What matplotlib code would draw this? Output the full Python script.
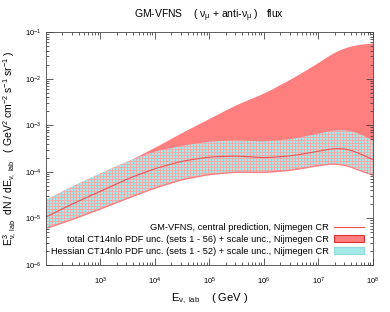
import numpy as np
import matplotlib
matplotlib.use("Agg")
import matplotlib.pyplot as plt
from matplotlib.patches import Patch
from matplotlib.lines import Line2D

plt.rcParams["font.family"] = ["Liberation Sans", "DejaVu Sans"]
plt.rcParams["mathtext.fontset"] = "custom"
plt.rcParams["mathtext.rm"] = "Liberation Sans"
plt.rcParams["mathtext.it"] = "Liberation Sans"
plt.rcParams["hatch.linewidth"] = 0.8

# values (log10 scale)
log_e = [2.0, 2.5, 3.0, 3.5, 4.0, 4.5, 5.0, 5.5, 6.0, 6.5, 7.0, 7.25, 7.5, 7.75, 8.0]
central = [-4.97, -4.68, -4.42, -4.15, -3.93, -3.77, -3.68, -3.66, -3.70, -3.66, -3.56, -3.50, -3.50, -3.60, -3.74]
hess_up = [-4.60, -4.30, -4.03, -3.77, -3.56, -3.44, -3.35, -3.32, -3.35, -3.30, -3.18, -3.11, -3.10, -3.17, -3.33]
hess_lo = [-5.20, -5.00, -4.78, -4.55, -4.33, -4.15, -4.04, -3.99, -4.00, -3.95, -3.85, -3.81, -3.84, -3.96, -4.06]
tot_up = [-4.60, -4.30, -4.03, -3.77, -3.47, -3.15, -2.85, -2.55, -2.31, -2.00, -1.65, -1.45, -1.32, -1.26, -1.23]
tot_lo = [-5.22, -5.02, -4.80, -4.57, -4.35, -4.17, -4.06, -4.01, -4.02, -3.97, -3.87, -3.83, -3.86, -3.98, -4.08]

# fine grid, gently smoothed so the curves are not piecewise straight
step = 0.01
fine = np.arange(2.0, 8.0 + step / 2, step)
pad = 30
ext = np.arange(2.0 - pad * step, 8.0 + (pad + 0.5) * step, step)
kern = np.exp(-0.5 * (np.arange(-pad, pad + 1) / 10.0) ** 2)
kern /= kern.sum()

def smooth(vals):
    y = np.interp(ext, log_e, vals)
    lo = ext < log_e[0]
    hi = ext > log_e[-1]
    y[lo] = vals[0] + (ext[lo] - log_e[0]) * (vals[1] - vals[0]) / (log_e[1] - log_e[0])
    y[hi] = vals[-1] + (ext[hi] - log_e[-1]) * (vals[-1] - vals[-2]) / (log_e[-1] - log_e[-2])
    return 10 ** np.convolve(y, kern, mode="valid")

E = 10 ** fine

fig = plt.figure(figsize=(3.9, 3.12), dpi=100)
ax = fig.add_axes([0.118, 0.151, 0.838, 0.746])

red = "#ff7f7f"
line_red = "#f05050"
cyan = "#a4eae8"
pink = "#f3aaaa"

ax.fill_between(E, smooth(tot_lo), smooth(tot_up), color=red, lw=0)
band = ax.fill_between(E, smooth(hess_lo), smooth(hess_up), facecolor="none", lw=0)

# checker-grid texture for the Hessian band, clipped to the band outline
w, h = 327, 233
yy, xx = np.mgrid[0:h, 0:w]
grid = (xx % 3 == 0) | (yy % 3 == 0)
tex = np.empty((h, w, 3))
tex[:] = matplotlib.colors.to_rgb(cyan)
tex[grid] = matplotlib.colors.to_rgb(pink)
im = ax.imshow(tex, extent=(0, 1, 0, 1), transform=ax.transAxes,
               interpolation="nearest", aspect="auto", zorder=2)
im.set_clip_path(band.get_paths()[0], transform=ax.transData)

ax.plot(E, smooth(central), color=line_red, lw=0.8, zorder=3)

ax.set_xscale("log")
ax.set_yscale("log")
ax.set_xlim(1e2, 1e8)
ax.set_ylim(1e-6, 1e-1)
ax.set_xticks([1e3, 1e4, 1e5, 1e6, 1e7, 1e8])
ax.tick_params(which="both", direction="in", top=True, right=True, labelsize=5.5,
               color="#444444", width=0.6)
ax.tick_params(which="major", length=5)
ax.tick_params(which="minor", length=2.5)
ax.tick_params(axis="x", pad=8)
for s in ax.spines.values():
    s.set_color("#444444")
    s.set_linewidth(0.6)
    s.set_zorder(4)

ax.set_title(r"GM-VFNS    ( $\nu_{\mu}$ + anti-$\nu_{\mu}$ )   flux", fontsize=7.5, pad=10)
ax.set_xlabel(r"E$_{\nu,\ \mathrm{lab}}$    ( GeV )", fontsize=8, labelpad=3)
ax.set_ylabel(r"E$^{3}_{\nu,\ \mathrm{lab}}$  dN / dE$_{\nu,\ \mathrm{lab}}$   ( GeV$^{2}$ cm$^{-2}$ s$^{-1}$ sr$^{-1}$ )",
              fontsize=7.5, labelpad=4)

handles = [
    Line2D([0], [0], color=line_red, lw=0.8),
    Patch(facecolor=red, edgecolor="#e03030", lw=0.8),
    Patch(facecolor=cyan, edgecolor="#8fdcdc", lw=0.8),
]
labels = [
    "GM-VFNS, central prediction, Nijmegen CR",
    "total CT14nlo PDF unc. (sets 1 - 56) + scale unc., Nijmegen CR",
    "Hessian CT14nlo PDF unc. (sets 1 - 52) + scale unc., Nijmegen CR",
]
ax.legend(handles, labels, loc="lower right", frameon=False, markerfirst=False,
          fontsize=6.7, handlelength=3.2, handleheight=0.8, labelspacing=0.3,
          borderaxespad=0.6, handletextpad=0.5)

fig.savefig("out.png", dpi=100)
